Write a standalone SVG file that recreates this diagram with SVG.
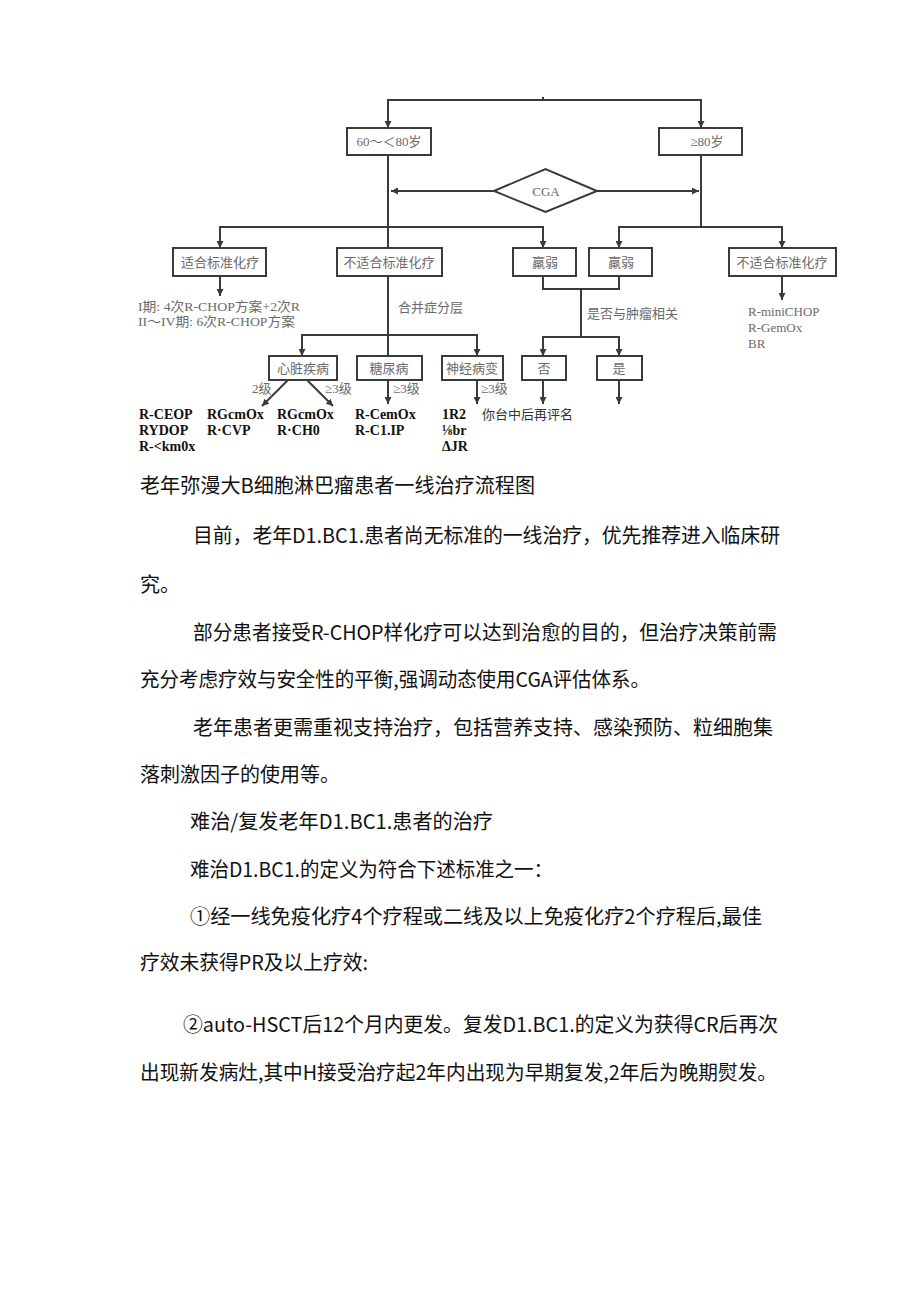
<svg xmlns="http://www.w3.org/2000/svg" width="920" height="1301" viewBox="0 0 920 1301">
<style>
.bx{fill:#fff;stroke:#3a3a3a;stroke-width:2}
.ln{fill:none;stroke:#3a3a3a;stroke-width:2}
.ar{fill:none;stroke:#3a3a3a;stroke-width:2;marker-end:url(#ah)}
.lb{font-family:"Liberation Serif","Noto Sans CJK SC",serif;font-size:13px;fill:#6a6a6a;text-anchor:middle}
.lt{font-family:"Liberation Serif","Noto Sans CJK SC",serif;font-size:13px;fill:#6a6a6a}
.rg{font-family:"Liberation Serif","Noto Sans CJK SC",serif;font-size:14px;font-weight:bold;fill:#111}
.nt{font-family:"Noto Sans CJK SC",sans-serif;font-size:13px;fill:#333}
.tx{font-family:"Noto Sans CJK SC",sans-serif;font-size:20px;fill:#111}
</style>
<defs>
<marker id="ah" markerUnits="userSpaceOnUse" markerWidth="7" markerHeight="7" refX="7" refY="3.5" orient="auto">
<path d="M0,0 L7,3.5 L0,7 z" fill="#3a3a3a"/>
</marker>
</defs>
<rect width="920" height="1301" fill="#fff"/>

<g id="connectors">
<path class="ln" d="M543,97 V100"/>
<path class="ar" d="M543,100 H388 V128"/>
<path class="ar" d="M543,100 H701 V128"/>
<path class="ln" d="M388,155 V356"/>
<path class="ar" d="M494,191 H391"/>
<path class="ar" d="M597,191 H699"/>
<path class="ln" d="M701,155 V227"/>
<path class="ar" d="M388,227 H220 V248"/>
<path class="ar" d="M388,227 H543 V248"/>
<path class="ar" d="M701,227 H619 V248"/>
<path class="ar" d="M701,227 H782 V248"/>
<path class="ar" d="M220,276 V296"/>
<path class="ln" d="M543,276 V289 H619 V276"/>
<path class="ln" d="M581,289 V337"/>
<path class="ar" d="M581,337 H543 V356"/>
<path class="ar" d="M581,337 H619 V356"/>
<path class="ar" d="M543,380 V404"/>
<path class="ar" d="M619,380 V404"/>
<path class="ar" d="M782,276 V300"/>
<path class="ar" d="M388,335 H302 V356"/>
<path class="ar" d="M388,335 H477 V356"/>
<path class="ar" d="M288,380 L262,406"/>
<path class="ar" d="M307,380 L333,406"/>
<path class="ar" d="M388,380 V404"/>
<path class="ar" d="M477,380 V404"/>
</g>

<g id="n-age60">
<rect class="bx" x="347" y="128" width="84" height="27"/>
<text class="lb" x="389" y="146">60～＜80岁</text>
</g>
<g id="n-age80">
<rect class="bx" x="659" y="128" width="83" height="27"/>
<text class="lb" x="707" y="146">≥80岁</text>
</g>
<g id="n-cga">
<polygon class="bx" points="494,191 545.5,169 597,191 545.5,212"/>
<text class="lb" x="546" y="196">CGA</text>
</g>
<g id="n-fit">
<rect class="bx" x="173" y="248" width="93" height="28"/>
<text class="lb" x="220" y="267">适合标准化疗</text>
</g>
<g id="n-unfit">
<rect class="bx" x="337" y="248" width="105" height="28"/>
<text class="lb" x="389" y="267">不适合标准化疗</text>
</g>
<g id="n-frail1">
<rect class="bx" x="513" y="248" width="63" height="28"/>
<text class="lb" x="545" y="267">羸弱</text>
</g>
<g id="n-frail2">
<rect class="bx" x="589" y="248" width="63" height="28"/>
<text class="lb" x="621" y="267">羸弱</text>
</g>
<g id="n-unfit2">
<rect class="bx" x="729" y="248" width="107" height="28"/>
<text class="lb" x="782" y="267">不适合标准化疗</text>
</g>
<g id="n-fit-regimen">
<text class="lt" x="138" y="311" textLength="162" lengthAdjust="spacingAndGlyphs">I期: 4次R-CHOP方案+2次R</text>
<text class="lt" x="138" y="326" textLength="157" lengthAdjust="spacingAndGlyphs">II～IV期: 6次R-CHOP方案</text>
</g>
<g id="l-comorb">
<text class="lt" x="398" y="312">合并症分层</text>
</g>
<g id="l-tumor">
<text class="lt" x="587" y="318">是否与肿瘤相关</text>
</g>
<g id="n-unfit2-regimen">
<text class="lt" x="748" y="316">R-miniCHOP</text>
<text class="lt" x="748" y="332">R-GemOx</text>
<text class="lt" x="748" y="348">BR</text>
</g>
<g id="n-heart">
<rect class="bx" x="269" y="356" width="68" height="24"/>
<text class="lb" x="303" y="373">心脏疾病</text>
</g>
<g id="n-diab">
<rect class="bx" x="357" y="356" width="65" height="24"/>
<text class="lb" x="389" y="373">糖尿病</text>
</g>
<g id="n-neuro">
<rect class="bx" x="442" y="356" width="61" height="24"/>
<text class="lb" x="472" y="373">神经病变</text>
</g>
<g id="n-no">
<rect class="bx" x="522" y="356" width="44" height="24"/>
<text class="lb" x="544" y="373">否</text>
</g>
<g id="n-yes">
<rect class="bx" x="597" y="356" width="45" height="24"/>
<text class="lb" x="619" y="373">是</text>
</g>
<g id="grade-labels">
<text class="lt" x="252" y="393">2级</text>
<text class="lt" x="325" y="393">≥3级</text>
<text class="lt" x="393" y="393">≥3级</text>
<text class="lt" x="481" y="393">≥3级</text>
</g>
<g id="regimens">
<text class="rg" x="139" y="419">R-CEOP</text>
<text class="rg" x="139" y="435">RYDOP</text>
<text class="rg" x="139" y="451">R-&lt;km0x</text>
<text class="rg" x="207" y="419">RGcmOx</text>
<text class="rg" x="207" y="435">R·CVP</text>
<text class="rg" x="277" y="419">RGcmOx</text>
<text class="rg" x="277" y="435">R·CH0</text>
<text class="rg" x="355" y="419">R-CemOx</text>
<text class="rg" x="355" y="435">R-C1.IP</text>
<text class="rg" x="442" y="419">1R2</text>
<text class="rg" x="442" y="435">⅛br</text>
<text class="rg" x="442" y="451">ΔJR</text>
<text class="nt" x="482" y="419">你台中后再评名</text>
</g>

<g id="body-text">
<text class="tx" x="140" y="493" textLength="395" lengthAdjust="spacingAndGlyphs">老年弥漫大B细胞淋巴瘤患者一线治疗流程图</text>
<text class="tx" x="193" y="543" textLength="587" lengthAdjust="spacingAndGlyphs">目前，老年D1.BC1.患者尚无标准的一线治疗，优先推荐进入临床研</text>
<text class="tx" x="140" y="592">究。</text>
<text class="tx" x="193" y="640" textLength="584" lengthAdjust="spacingAndGlyphs">部分患者接受R-CHOP样化疗可以达到治愈的目的，但治疗决策前需</text>
<text class="tx" x="140" y="687" textLength="510" lengthAdjust="spacingAndGlyphs">充分考虑疗效与安全性的平衡,强调动态使用CGA评估体系。</text>
<text class="tx" x="193" y="735" textLength="580" lengthAdjust="spacingAndGlyphs">老年患者更需重视支持治疗，包括营养支持、感染预防、粒细胞集</text>
<text class="tx" x="140" y="782">落刺激因子的使用等。</text>
<text class="tx" x="190" y="829" textLength="303" lengthAdjust="spacingAndGlyphs">难治/复发老年D1.BC1.患者的治疗</text>
<text class="tx" x="190" y="877" textLength="363" lengthAdjust="spacingAndGlyphs">难治D1.BC1.的定义为符合下述标准之一：</text>
<text class="tx" x="190" y="924" textLength="572" lengthAdjust="spacingAndGlyphs">①经一线免疫化疗4个疗程或二线及以上免疫化疗2个疗程后,最佳</text>
<text class="tx" x="140" y="970" textLength="228" lengthAdjust="spacingAndGlyphs">疗效未获得PR及以上疗效:</text>
<text class="tx" x="183" y="1032" textLength="595" lengthAdjust="spacingAndGlyphs">②auto-HSCT后12个月内更发。复发D1.BC1.的定义为获得CR后再次</text>
<text class="tx" x="140" y="1080" textLength="637" lengthAdjust="spacingAndGlyphs">出现新发病灶,其中H接受治疗起2年内出现为早期复发,2年后为晚期熨发。</text>
</g>
</svg>
